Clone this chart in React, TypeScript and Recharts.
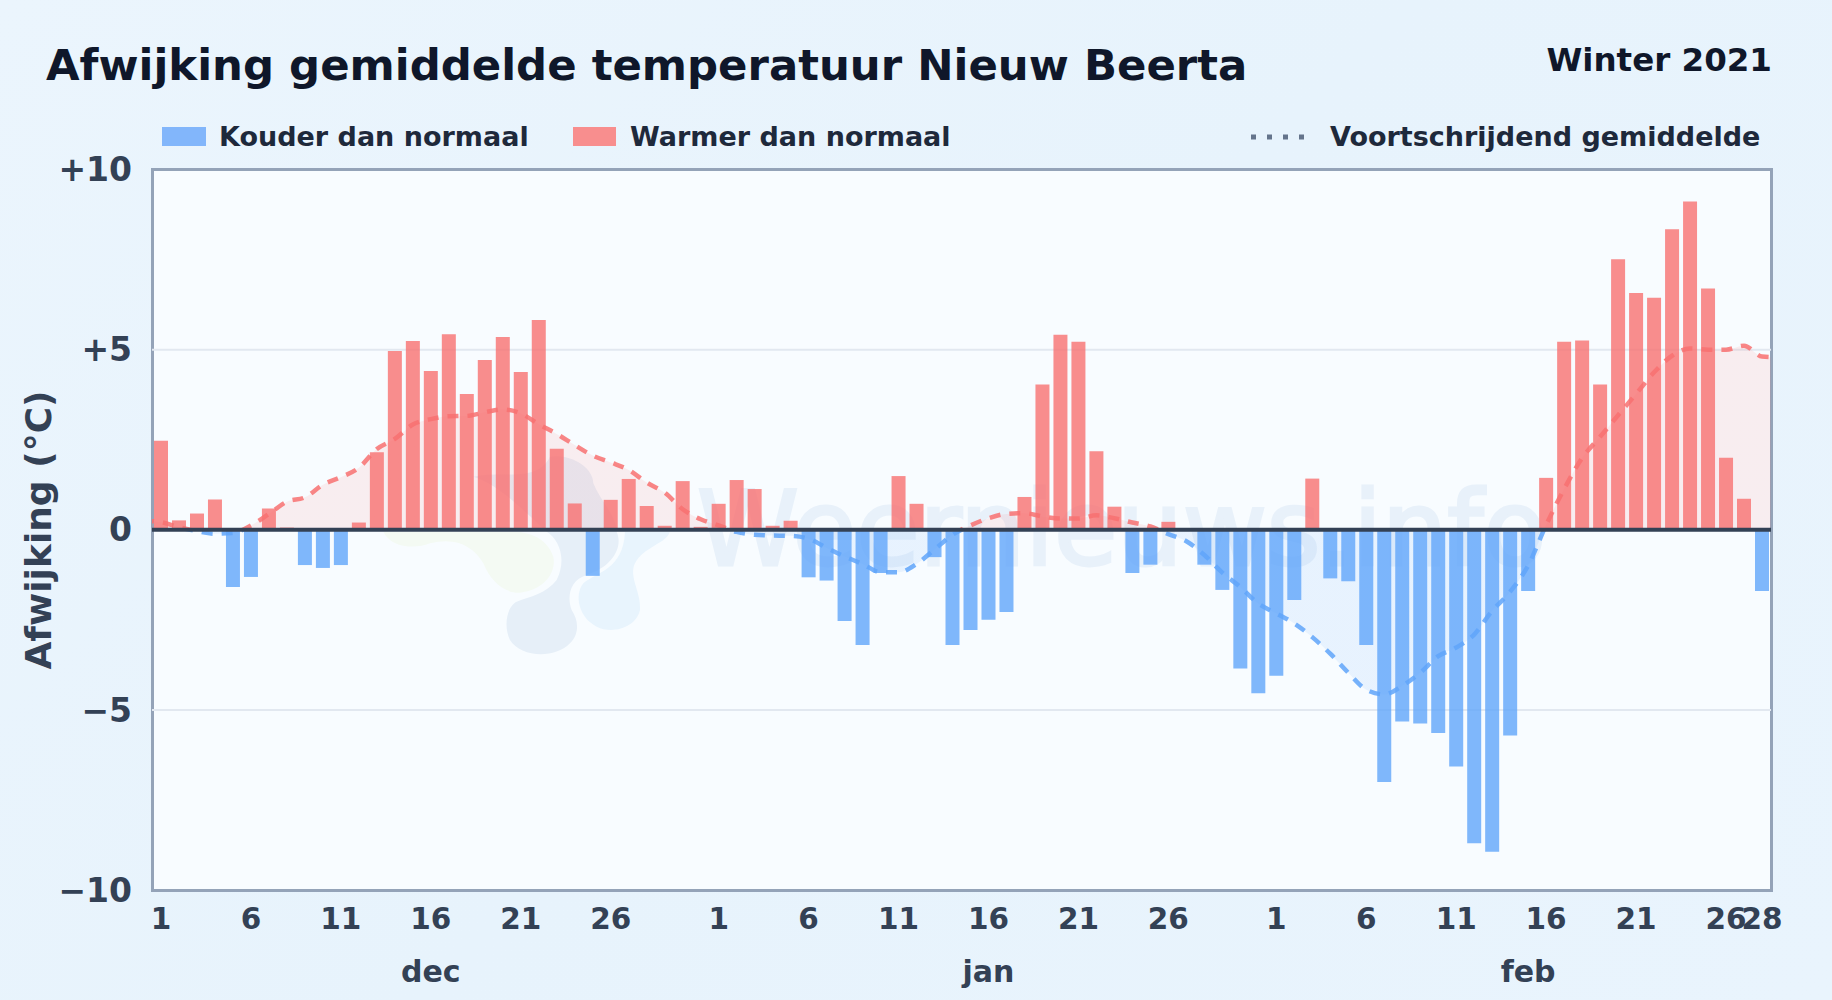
import React from "react"
import { ComposedChart, Area, Bar, Cell, XAxis, YAxis, CartesianGrid, ReferenceLine } from "recharts"

const FONT = "'DejaVu Sans', sans-serif"

// afwijking per dag (°C)
const decValues = [2.47, 0.26, 0.45, 0.84, -1.59, -1.31, 0.59, 0.06, -0.98, -1.06, -0.98, 0.2, 2.15, 4.96, 5.24, 4.41, 5.43, 3.77, 4.71, 5.35, 4.38, 5.82, 2.25, 0.73, -1.28, 0.83, 1.41, 0.66, 0.11, 1.35, 0.08]
const janValues = [0.72, 1.38, 1.13, 0.11, 0.25, -1.32, -1.41, -2.53, -3.2, -1.2, 1.49, 0.72, -0.76, -3.2, -2.78, -2.5, -2.28, 0.91, 4.03, 5.41, 5.22, 2.18, 0.64, -1.2, -0.97, 0.22, -0.03, -0.97, -1.67, -3.85, -4.54]
const febValues = [-4.05, -1.95, 1.42, -1.35, -1.43, -3.2, -7.0, -5.32, -5.38, -5.64, -6.57, -8.7, -8.94, -5.71, -1.7, 1.44, 5.22, 5.25, 4.03, 7.51, 6.57, 6.44, 8.34, 9.11, 6.7, 2.0, 0.86, -1.7]

// voortschrijdend gemiddelde, ook per dag
const movingAverage = [
  0.21, 0.07, -0.04, -0.11, -0.09, 0.12, 0.44, 0.78, 0.9, 1.25, 1.46, 1.72, 2.24, 2.52, 2.92, 3.07, 3.15, 3.16, 3.26, 3.34, 3.23, 2.93, 2.66, 2.35, 2.06, 1.87, 1.66, 1.31, 1.03, 0.57, 0.29,
  0.12, -0.06, -0.14, -0.16, -0.17, -0.25, -0.5, -0.74, -0.95, -1.18, -1.18, -0.95, -0.55, -0.14, 0.12, 0.32, 0.44, 0.46, 0.37, 0.31, 0.31, 0.4, 0.32, 0.2, 0.09, -0.12, -0.32, -0.7, -1.19, -1.59,
  -2.05, -2.32, -2.6, -2.98, -3.44, -3.97, -4.44, -4.57, -4.33, -3.97, -3.51, -3.27, -2.91, -2.25, -1.72, -0.99, 0.13, 1.13, 1.99, 2.58, 3.18, 3.77, 4.37, 4.83, 5.03, 5.0, 5.0, 5.11, 4.81,
]
// de lijn loopt door tot buiten het plot, zodat hij de randen raakt (wordt afgeknipt)
const averageEdges = [0.25, 4.78]

const dayTickPositions = [0.5, 5.5, 10.5, 15.5, 20.5, 25.5, 31.5, 36.5, 41.5, 46.5, 51.5, 56.5, 62.5, 67.5, 72.5, 77.5, 82.5, 87.5, 89.5]
const dayTickLabels = ["1", "6", "11", "16", "21", "26", "1", "6", "11", "16", "21", "26", "1", "6", "11", "16", "21", "26", "28"]
const monthTickPositions = [15.5, 46.5, 76.5]
const monthTickLabels = ["dec", "jan", "feb"]
const yTicks = [-10, -5, 0, 5, 10]
const yTickLabels = ["−10", "−5", "0", "+5", "+10"]
const gridValues = [-5, 5]

const barRows = [...decValues, ...janValues, ...febValues].map((value, i) => ({ x: i + 0.5, value }))
const averageRows = [
  { x: -0.5, avg: averageEdges[0] },
  ...movingAverage.map((avg, i) => ({ x: i + 0.5, avg })),
  { x: 90.5, avg: averageEdges[1] },
]

const PLOT = { left: 152, top: 169.5, width: 1619, height: 721 }

function Watermark() {
  return (
    <svg width={1832} height={1000} style={{ position: "absolute", left: 0, top: 0 }}>
      <g transform="translate(370,440) scale(0.3333)">
        <path d="M40 275 C60 320 130 330 180 310 C260 290 310 320 340 370 C360 420 400 460 450 458 C520 450 560 400 550 350 C530 290 470 270 400 275 Z" fill="#f4faf3" />
        <path d="M310 110 C400 90 500 130 540 50 C600 40 670 80 670 130 C690 180 740 230 740 275 C760 320 730 380 650 405 C600 420 590 470 605 510 C625 540 630 580 600 610 C550 660 450 650 420 600 C400 560 410 500 440 485 C480 470 530 460 560 420 C590 360 570 300 530 275 C450 200 380 130 310 110 Z" fill="#e6eff8" />
        <path d="M765 275 L900 275 C890 310 820 320 795 370 C775 410 815 460 810 510 C800 560 730 585 680 560 C630 535 610 470 640 430 C680 395 760 390 765 275 Z" fill="#e8f4fd" />
      </g>
      <text x={697} y={565} fontFamily={FONT} fontSize={103} fill="#e8f1fa" stroke="#e8f1fa" strokeWidth={3}>
        Weernieuws.info
      </text>
    </svg>
  )
}

function LegendRow() {
  const label: React.CSSProperties = { position: "absolute", top: 119, fontSize: 27, fontWeight: 700, color: "#1e293b", whiteSpace: "nowrap", lineHeight: "36px" }
  return (
    <>
      <div style={{ position: "absolute", left: 162, top: 127, width: 44, height: 19, background: "#82b6fb" }} />
      <div style={{ ...label, left: 219 }}>Kouder dan normaal</div>
      <div style={{ position: "absolute", left: 573, top: 127, width: 43, height: 19, background: "#f88e8e" }} />
      <div style={{ ...label, left: 630 }}>Warmer dan normaal</div>
      <svg width={60} height={8} style={{ position: "absolute", left: 1251, top: 133 }}>
        <line x1={0} y1={4} x2={60} y2={4} stroke="#64748b" strokeWidth={5} strokeDasharray="5 11" />
      </svg>
      <div style={{ ...label, left: 1330 }}>Voortschrijdend gemiddelde</div>
    </>
  )
}

export default function App() {
  return (
    <div
      style={{
        position: "absolute",
        left: 0,
        top: 0,
        width: 1832,
        height: 1000,
        overflow: "hidden",
        fontFamily: FONT,
        background: "linear-gradient(135deg, #ebf5fd 0%, #e7f3fc 50%, #e9f4fd 100%)",
      }}
    >
      <div style={{ position: "absolute", left: 46, top: 40, fontSize: 43.4, fontWeight: 700, color: "#0f172a", whiteSpace: "nowrap" }}>
        Afwijking gemiddelde temperatuur Nieuw Beerta
      </div>
      <div style={{ position: "absolute", right: 60, top: 41, fontSize: 32.5, fontWeight: 700, color: "#0f172a", whiteSpace: "nowrap" }}>Winter 2021</div>
      <LegendRow />

      <div
        style={{
          position: "absolute",
          boxSizing: "border-box",
          left: 151,
          top: 168,
          width: PLOT.width + 3,
          height: PLOT.height + 3,
          background: "#f8fcff",
          border: "3px solid #94a3b8",
        }}
      />
      <Watermark />

      <div
        style={{
          position: "absolute",
          left: 38,
          top: 530,
          transform: "translate(-50%, -50%) rotate(-90deg)",
          fontSize: 36,
          fontWeight: 700,
          color: "#334155",
          whiteSpace: "nowrap",
        }}
      >
        Afwijking (°C)
      </div>

      <div style={{ position: "absolute", left: 0, top: 0 }}>
        <ComposedChart
          width={1832}
          height={1000}
          data={barRows}
          margin={{ top: PLOT.top, right: 1832 - PLOT.left - PLOT.width, left: 0, bottom: 0 }}
        >
          <defs>
            <linearGradient id="splitStroke" gradientUnits="userSpaceOnUse" x1={0} x2={0} y1={PLOT.top} y2={PLOT.top + PLOT.height}>
              <stop offset="50%" stopColor="#f87171" />
              <stop offset="50%" stopColor="#60a5fa" />
            </linearGradient>
            <linearGradient id="splitFill" gradientUnits="userSpaceOnUse" x1={0} x2={0} y1={PLOT.top} y2={PLOT.top + PLOT.height}>
              <stop offset="50%" stopColor="#f87171" stopOpacity={0.18} />
              <stop offset="50%" stopColor="#60a5fa" stopOpacity={0.18} />
            </linearGradient>
          </defs>
          <CartesianGrid horizontal vertical={false} horizontalValues={gridValues} stroke="#e2e8f0" strokeWidth={2} />
          <XAxis
            dataKey="x"
            type="number"
            domain={[0, 90]}
            allowDataOverflow
            ticks={dayTickPositions}
            interval={0}
            tickFormatter={(v: number) => dayTickLabels[dayTickPositions.indexOf(v)]}
            axisLine={false}
            tickLine={false}
            height={50}
            tickMargin={12}
            tick={{ fill: "#334155", fontSize: 29.5, fontWeight: 700, fontFamily: FONT }}
          />
          <XAxis
            xAxisId="month"
            dataKey="x"
            type="number"
            domain={[0, 90]}
            allowDataOverflow
            ticks={monthTickPositions}
            interval={0}
            tickFormatter={(v: number) => monthTickLabels[monthTickPositions.indexOf(v)]}
            axisLine={false}
            tickLine={false}
            height={60}
            tickMargin={15}
            tick={{ fill: "#334155", fontSize: 30, fontWeight: 700, fontFamily: FONT }}
          />
          <YAxis
            type="number"
            domain={[-10, 10]}
            ticks={yTicks}
            interval={0}
            width={PLOT.left}
            tickFormatter={(v: number) => yTickLabels[yTicks.indexOf(v)]}
            axisLine={false}
            tickLine={false}
            tickMargin={14}
            tick={{ fill: "#334155", fontSize: 33, fontWeight: 700, fontFamily: FONT }}
          />
          <Area
            data={averageRows}
            dataKey="avg"
            type="monotone"
            baseValue={0}
            stroke="url(#splitStroke)"
            strokeWidth={4.5}
            strokeOpacity={0.85}
            strokeDasharray="11 9"
            fill="url(#splitFill)"
            dot={false}
            activeDot={false}
            isAnimationActive={false}
          />
          <Bar dataKey="value" barSize={14} isAnimationActive={false}>
            {barRows.map((row) => (
              <Cell key={row.x} fill={row.value < 0 ? "#60a5fa" : "#f87171"} fillOpacity={0.8} />
            ))}
          </Bar>
          <ReferenceLine y={0} stroke="#334155" strokeWidth={4} />
        </ComposedChart>
      </div>
    </div>
  )
}
